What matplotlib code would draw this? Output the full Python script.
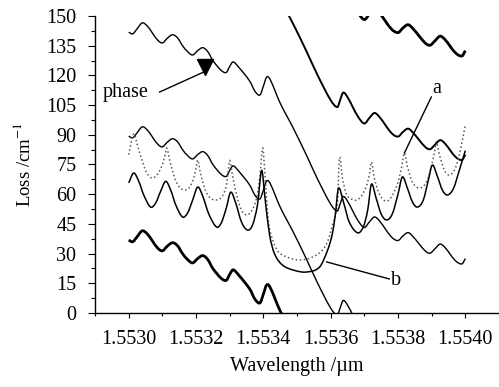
import matplotlib
matplotlib.use("Agg")
import matplotlib.pyplot as plt
from matplotlib.path import Path
from matplotlib.patches import PathPatch

plt.rcParams["font.family"] = ["Liberation Serif", "DejaVu Serif"]
plt.rcParams["mathtext.fontset"] = "stix"

# phase curve (drawn several times, shifted by a wrap offset)
phase_x = [1.553000, 1.553012, 1.553025, 1.553040, 1.553055, 1.553070, 1.553085,
           1.553100, 1.553115, 1.553130, 1.553145, 1.553160, 1.553175, 1.553190,
           1.553205, 1.553220, 1.553235, 1.553250, 1.553275, 1.553290, 1.553300,
           1.553310, 1.553325, 1.553360, 1.553375, 1.553390, 1.553400, 1.553410,
           1.553420, 1.553450, 1.553490, 1.553530, 1.553560, 1.553600, 1.553620,
           1.553628, 1.553637, 1.553650, 1.553680, 1.553700, 1.553715, 1.553730,
           1.553745, 1.553780, 1.553800, 1.553815, 1.553830, 1.553845, 1.553880,
           1.553895, 1.553910, 1.553925, 1.553940, 1.553970, 1.553990, 1.554000]
phase_y = [141.8, 141.0, 143.5, 146.5, 145.0, 141.5, 138.0,
           136.4, 138.8, 140.5, 139.0, 135.0, 132.0, 130.3,
           132.5, 134.0, 132.0, 127.5, 122.5, 121.5, 124.5,
           126.8, 124.5, 117.0, 112.0, 110.1, 114.5, 119.2,
           118.0, 106.0, 93.0, 79.0, 68.0, 55.0, 51.5,
           55.0, 58.8, 56.5, 47.0, 43.2, 46.0, 48.5,
           46.5, 38.5, 36.6, 39.0, 40.6, 38.5, 31.5,
           30.2, 32.5, 34.8, 33.0, 26.5, 24.8, 27.5]
phase_offsets = [-105, -52.5, 0, 52.5, 105]
phase_widths = [2.0, 1.0, 1.0, 1.4, 2.0]

# curve a (dotted)
a_x = [1.553000, 1.553015, 1.553027, 1.553042, 1.553053, 1.553068, 1.553083, 1.553098,
       1.553107, 1.553113, 1.553122, 1.553137, 1.553151, 1.553166, 1.553181, 1.553193,
       1.553199, 1.553205, 1.553214, 1.553228, 1.553243, 1.553261, 1.553276, 1.553288,
       1.553294, 1.553300, 1.553309, 1.553323, 1.553335, 1.553350, 1.553365, 1.553380,
       1.553389, 1.553398, 1.553404, 1.553412, 1.553418, 1.553433, 1.553448, 1.553478,
       1.553507, 1.553543, 1.553576, 1.553593, 1.553605, 1.553620, 1.553626, 1.553635,
       1.553647, 1.553662, 1.553677, 1.553691, 1.553706, 1.553715, 1.553721, 1.553730,
       1.553745, 1.553763, 1.553780, 1.553798, 1.553810, 1.553819, 1.553828, 1.553843,
       1.553864, 1.553884, 1.553899, 1.553908, 1.553914, 1.553923, 1.553938, 1.553953,
       1.553970, 1.553985, 1.554000]
a_y = [80.0, 90.5, 84.0, 76.0, 71.0, 68.2, 69.5, 74.0,
       79.0, 83.3, 77.0, 68.0, 63.5, 62.1, 63.5, 68.0,
       72.0, 77.3, 70.0, 62.0, 58.0, 57.1, 58.5, 63.0,
       69.0, 77.0, 69.0, 58.0, 52.0, 49.5, 51.5, 58.0,
       68.0, 83.3, 72.0, 52.0, 43.0, 34.5, 30.3, 27.8,
       26.8, 28.0, 31.8, 37.0, 44.4, 55.0, 78.3, 68.0,
       60.0, 57.5, 57.0, 59.0, 64.0, 70.0, 76.3, 68.0,
       60.0, 56.5, 58.5, 65.0, 73.0, 80.8, 74.0, 66.0,
       63.1, 66.0, 74.0, 81.0, 86.4, 80.0, 72.0, 69.7,
       73.0, 82.0, 95.0]

# curve b (solid)
b_x = [1.553000, 1.553015, 1.553030, 1.553045, 1.553065, 1.553080, 1.553095, 1.553110,
       1.553125, 1.553140, 1.553160, 1.553175, 1.553190, 1.553205, 1.553220, 1.553238,
       1.553261, 1.553275, 1.553290, 1.553303, 1.553318, 1.553335, 1.553353, 1.553368,
       1.553383, 1.553395, 1.553405, 1.553418, 1.553433, 1.553457, 1.553493, 1.553528,
       1.553567, 1.553591, 1.553605, 1.553614, 1.553623, 1.553638, 1.553655, 1.553680,
       1.553697, 1.553710, 1.553721, 1.553735, 1.553750, 1.553766, 1.553783, 1.553800,
       1.553813, 1.553828, 1.553843, 1.553858, 1.553875, 1.553890, 1.553902, 1.553917,
       1.553932, 1.553947, 1.553965, 1.553982, 1.554000]
b_y = [65.7, 70.7, 66.5, 59.5, 53.5, 55.5, 61.5, 66.5,
       62.0, 54.5, 48.5, 50.5, 57.0, 63.6, 59.0, 50.0,
       43.4, 45.5, 53.0, 61.0, 55.5, 46.0, 41.9, 44.5,
       55.0, 72.0, 58.0, 40.0, 30.0, 24.2, 21.5, 20.7,
       23.2, 31.8, 40.0, 50.0, 63.0, 56.0, 46.0, 40.5,
       43.5, 52.0, 65.0, 58.0, 50.0, 47.0, 50.0, 60.0,
       68.7, 63.0, 56.0, 53.5, 57.0, 67.0, 74.7, 69.0,
       62.0, 59.6, 63.0, 72.0, 82.0]

x_ticks = [1.5530, 1.5532, 1.5534, 1.5536, 1.5538, 1.5540]
x_tick_labels = ["1.5530", "1.5532", "1.5534", "1.5536", "1.5538", "1.5540"]
y_ticks = [0, 15, 30, 45, 60, 75, 90, 105, 120, 135, 150]


def smooth_line(ax, xs, ys, **kw):
    # smoothed line like a spreadsheet "smoothed line" series (cubic Bezier through points)
    n = len(xs)
    m = []
    for i in range(n):
        j0, j1 = max(i - 1, 0), min(i + 1, n - 1)
        m.append((ys[j1] - ys[j0]) / (xs[j1] - xs[j0]))
    verts = [(xs[0], ys[0])]
    codes = [Path.MOVETO]
    for i in range(n - 1):
        d = (xs[i + 1] - xs[i]) / 3
        verts += [(xs[i] + d, ys[i] + m[i] * d),
                  (xs[i + 1] - d, ys[i + 1] - m[i + 1] * d),
                  (xs[i + 1], ys[i + 1])]
        codes += [Path.CURVE4] * 3
    ax.add_patch(PathPatch(Path(verts, codes), fill=False, **kw))


fig = plt.figure(figsize=(4.99, 3.87), dpi=100)
ax = fig.add_axes([0.1904, 0.1912, 0.8096, 0.7675])

for off, lw in zip(phase_offsets, phase_widths):
    smooth_line(ax, phase_x, [v + off for v in phase_y], edgecolor="black", lw=lw)
smooth_line(ax, a_x, a_y, edgecolor="0.35", lw=1.1, ls=":")
smooth_line(ax, b_x, b_y, edgecolor="black", lw=1.1)

# labels and pointers
ax.text(1.552991, 111.5, "phase", fontsize=14.5, ha="center", va="center")
ax.plot([1.553092, 1.553223], [111.6, 121.7], color="black", lw=1.0)
ax.plot([1.553226], [124.2], marker="v", color="black", markersize=12, clip_on=False)
ax.text(1.553914, 113.6, "a", fontsize=14.5, ha="center", va="center")
ax.plot([1.553899, 1.553819], [109.1, 80.8], color="black", lw=1.0)
ax.text(1.553795, 16.2, "b", fontsize=14.5, ha="center", va="center")
ax.plot([1.553774, 1.553588], [17.2, 25.8], color="black", lw=1.0)

ax.set_xlim(1.5529, 1.5541)
ax.set_ylim(0, 150)
ax.set_xticks(x_ticks)
ax.set_xticklabels(x_tick_labels)
ax.set_xticks([1.5529, 1.5531, 1.5533, 1.5535, 1.5537, 1.5539], minor=True)
ax.set_yticks(y_ticks)
ax.set_yticks([7.5 + 15 * i for i in range(10)], minor=True)
ax.tick_params(axis="both", which="both", direction="out", labelsize=14.5, width=0.8)
ax.tick_params(axis="x", which="major", length=3.3, pad=9)
ax.tick_params(axis="x", which="minor", length=2.2)
ax.tick_params(axis="y", which="major", length=5.4, pad=8)
ax.tick_params(axis="y", which="minor", length=3.0)

ax.spines["top"].set_visible(False)
ax.spines["right"].set_visible(False)
ax.spines["left"].set_linewidth(1.0)
ax.spines["bottom"].set_linewidth(1.0)

ax.set_xlabel("Wavelength /\u00b5m", fontsize=14.5, labelpad=6)
ax.set_ylabel("Loss /cm$^{-1}$", fontsize=13.5, labelpad=9)

plt.savefig("out.png", dpi=100)
